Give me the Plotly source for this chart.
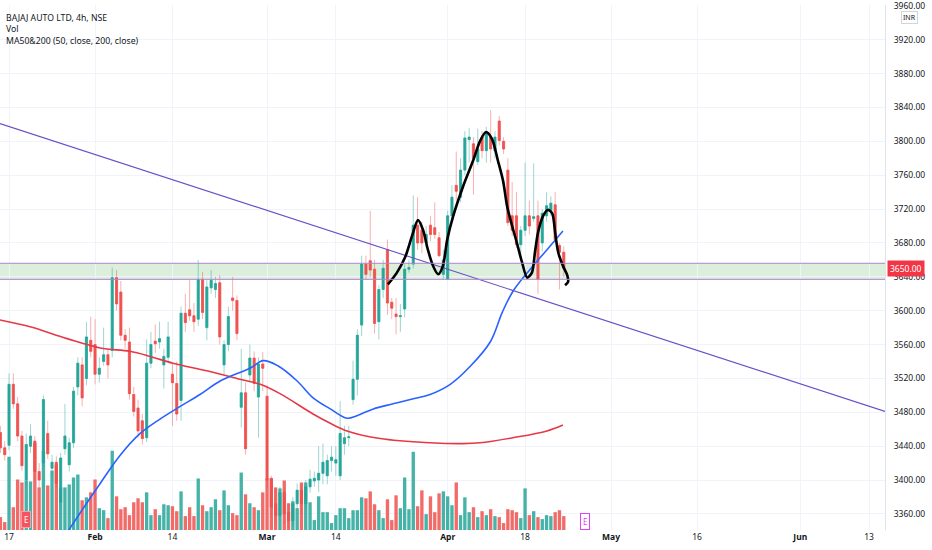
import plotly.graph_objects as go

# bar index 0 = first 4h bar of 1 Feb (two NSE bars per session)
bar_idx = list(range(-22, 110))

opens = [3456, 3438, 3441, 3513, 3490, 3452, 3400, 3440, 3446, 3410,
         3420, 3455, 3414, 3421, 3374, 3437, 3418, 3444, 3510, 3536,
         3520, 3565, 3560, 3525, 3540, 3548, 3553, 3639, 3622, 3571,
         3563, 3501, 3485, 3470, 3450, 3538, 3564, 3563, 3536, 3545,
         3525, 3514, 3494, 3597, 3601, 3594, 3590, 3637, 3580, 3627,
         3625, 3633, 3536, 3560, 3615, 3612, 3486, 3503, 3524, 3544,
         3498, 3537, 3499, 3402, 3372, 3358, 3385, 3362, 3352, 3372,
         3388, 3372, 3392, 3399, 3400, 3408, 3405, 3423, 3420, 3405,
         3443, 3450, 3495, 3519, 3583, 3655, 3659, 3649, 3587, 3625,
         3672, 3610, 3596, 3593, 3602, 3649, 3655, 3701, 3695, 3680,
         3701, 3698, 3686, 3643, 3637, 3712, 3748, 3734, 3766, 3802,
         3797, 3776, 3805, 3789, 3805, 3789, 3824, 3800, 3766, 3712,
         3712, 3678, 3695, 3712, 3709, 3712, 3680, 3712, 3718, 3725,
         3677, 3669]
highs = [3464, 3446, 3526, 3526, 3498, 3458, 3455, 3466, 3452, 3420,
         3500, 3470, 3430, 3428, 3432, 3490, 3450, 3510, 3545, 3545,
         3587, 3593, 3590, 3545, 3580, 3555, 3651, 3648, 3635, 3578,
         3580, 3510, 3495, 3478, 3566, 3575, 3584, 3587, 3555, 3587,
         3538, 3540, 3605, 3620, 3637, 3609, 3660, 3646, 3636, 3648,
         3640, 3642, 3565, 3605, 3640, 3618, 3555, 3515, 3560, 3552,
         3545, 3551, 3512, 3405, 3390, 3392, 3390, 3372, 3380, 3396,
         3395, 3400, 3412, 3410, 3440, 3443, 3430, 3440, 3440, 3493,
         3464, 3464, 3541, 3578, 3665, 3665, 3718, 3660, 3630, 3660,
         3684, 3615, 3615, 3608, 3655, 3660, 3736, 3734, 3705, 3700,
         3712, 3728, 3693, 3672, 3718, 3748, 3788, 3780, 3812, 3816,
         3805, 3815, 3812, 3817, 3837, 3812, 3830, 3805, 3780, 3752,
         3740, 3700, 3775, 3730, 3774, 3730, 3720, 3740, 3735, 3740,
         3680, 3676]
lows = [3432, 3423, 3435, 3484, 3446, 3411, 3392, 3432, 3400, 3390,
        3415, 3425, 3405, 3390, 3368, 3430, 3410, 3438, 3500, 3487,
        3512, 3545, 3513, 3515, 3535, 3520, 3545, 3600, 3565, 3555,
        3495, 3475, 3450, 3442, 3445, 3532, 3550, 3555, 3508, 3540,
        3464, 3470, 3470, 3575, 3588, 3575, 3582, 3590, 3565, 3620,
        3615, 3560, 3525, 3552, 3600, 3565, 3462, 3430, 3515, 3505,
        3450, 3505, 3390, 3355, 3350, 3352, 3348, 3343, 3346, 3365,
        3360, 3365, 3385, 3392, 3386, 3395, 3395, 3410, 3405, 3400,
        3430, 3440, 3489, 3500, 3570, 3637, 3640, 3573, 3566, 3615,
        3595, 3590, 3572, 3575, 3592, 3645, 3650, 3672, 3668, 3675,
        3682, 3685, 3663, 3637, 3636, 3706, 3730, 3728, 3760, 3775,
        3737, 3772, 3780, 3775, 3775, 3780, 3795, 3785, 3700, 3688,
        3674, 3667, 3688, 3690, 3705, 3620, 3670, 3705, 3712, 3680,
        3625, 3640]
closes = [3438, 3430, 3513, 3490, 3452, 3417, 3442, 3452, 3410, 3400,
          3495, 3431, 3421, 3396, 3426, 3452, 3444, 3505, 3538, 3497,
          3569, 3552, 3525, 3532, 3548, 3536, 3639, 3608, 3571, 3565,
          3502, 3481, 3458, 3449, 3538, 3560, 3561, 3567, 3546, 3569,
          3515, 3478, 3597, 3586, 3594, 3587, 3637, 3598, 3628, 3636,
          3632, 3569, 3560, 3593, 3612, 3573, 3503, 3437, 3544, 3514,
          3537, 3532, 3400, 3368, 3358, 3385, 3360, 3352, 3372, 3388,
          3372, 3392, 3401, 3402, 3408, 3421, 3423, 3427, 3424, 3455,
          3450, 3451, 3519, 3571, 3655, 3643, 3648, 3585, 3625, 3650,
          3609, 3603, 3593, 3594, 3649, 3651, 3701, 3680, 3680, 3690,
          3690, 3690, 3665, 3660, 3712, 3734, 3741, 3766, 3804, 3805,
          3780, 3791, 3789, 3810, 3791, 3805, 3801, 3791, 3704, 3695,
          3678, 3695, 3712, 3700, 3711, 3637, 3715, 3724, 3727, 3684,
          3669, 3650]
volume_k = [130, 80, 740, 230, 510, 480, 500, 490, 880, 430,
            800, 450, 600, 660, 430, 430, 460, 530, 560, 300,
            330, 380, 510, 220, 200, 120, 800, 340, 210, 230,
            150, 280, 320, 280, 380, 150, 210, 150, 260, 250,
            240, 190, 390, 140, 230, 140, 520, 250, 190, 230,
            310, 200, 400, 250, 170, 150, 580, 360, 270, 230,
            200, 380, 520, 520, 430, 420, 500, 270, 290, 220,
            480, 480, 280, 100, 340, 180, 180, 70, 150, 220,
            220, 120, 200, 200, 330, 320, 390, 260, 200, 120,
            310, 100, 350, 220, 530, 210, 790, 240, 400, 160,
            340, 180, 370, 390, 340, 250, 480, 150, 330, 180,
            230, 130, 190, 150, 210, 140, 130, 70, 210, 200,
            180, 120, 420, 150, 190, 130, 110, 150, 140, 180,
            200, 140]

tick_idx = [-20, 0, 18, 40, 56, 82, 100, 120, 140, 164, 180]
tick_text = ["17", "<b>Feb</b>", "14", "<b>Mar</b>", "14", "<b>Apr</b>", "18",
             "<b>May</b>", "16", "<b>Jun</b>", "13"]
price_ticks = list(range(3360, 3961, 40))

ma50_idx = [-6.5, -2.3, 1.2, 5.8, 10.5, 15.1, 19.8, 24.4, 29.1, 36, 39.1, 42.5,
            47, 50.7, 54.7, 58.6, 60.9, 64.7, 69.3, 74, 77.9, 82.6, 87.2, 91.9, 94.7, 97.2,
            101.2, 105.1, 108.8]
ma50_val = [3338, 3370, 3396, 3429, 3455, 3472, 3487, 3501, 3517, 3532, 3541, 3535,
            3517, 3497, 3484, 3473, 3476, 3484, 3490, 3496, 3501, 3513, 3534, 3563, 3598, 3623,
            3649, 3672, 3694]
ma200_idx = [-22.1, -15.1, -6.5, 1.2, 8.1, 12.8, 18.1, 26, 33.7, 38.4, 43, 50.7, 54.7, 58.6,
             66.3, 77.9, 85.6, 89.5, 97.2, 105.1, 108.8]
ma200_val = [3589, 3581, 3567, 3556, 3552, 3546, 3538, 3529, 3519, 3513, 3502, 3478, 3467, 3458,
             3449, 3444, 3443, 3444, 3450, 3458, 3465]

trend_idx = [-22.1, 183.7]
trend_val = [3821, 3481]

zone_low, zone_high = 3637, 3656
last_price = 3650.00

pattern_idx = [68.1, 70.2, 72.1, 73.7, 75.1, 76.3, 77.4, 78.6, 79.8, 80.9, 81.9, 83.3, 85.6,
               87.9, 89.5, 90.9, 92.3, 93.7, 94.9, 95.8, 97.0, 98.1, 99.3, 100.5, 101.6,
               102.3, 103.0, 104.2, 105.3, 106.3, 107.0, 107.7, 108.8, 109.8, 110.0, 109.3]
pattern_val = [3631, 3645, 3663, 3688, 3707, 3695, 3672, 3653, 3643, 3653, 3684, 3712, 3747,
               3777, 3800, 3811, 3803, 3777, 3753, 3724, 3700, 3680, 3657, 3639, 3645,
               3669, 3692, 3712, 3719, 3715, 3692, 3669, 3653, 3642, 3634, 3630]

earnings_idx = [-16, 114]

UP, DN = "#26a69a", "#ef5350"
UP_W, DN_W = "rgba(38,166,154,0.45)", "rgba(239,83,80,0.45)"
FONT = "Noto Sans"

fig = go.Figure()

vol_colors = [UP if c >= o else DN for o, c in zip(opens, closes)]
fig.add_trace(go.Bar(x=bar_idx, y=volume_k, marker_color=vol_colors, marker_line_width=0,
                     opacity=0.85, width=0.78, yaxis="y"))

# wicks (light) then bodies (solid) on top
fig.add_trace(go.Candlestick(x=bar_idx, open=opens, high=highs, low=lows, close=closes,
                             yaxis="y2", whiskerwidth=0,
                             increasing=dict(line=dict(color=UP_W, width=1), fillcolor=UP_W),
                             decreasing=dict(line=dict(color=DN_W, width=1), fillcolor=DN_W)))
body_hi = [max(o, c) for o, c in zip(opens, closes)]
body_lo = [min(o, c) for o, c in zip(opens, closes)]
fig.add_trace(go.Candlestick(x=bar_idx, open=opens, high=body_hi, low=body_lo, close=closes,
                             yaxis="y2", whiskerwidth=0,
                             increasing=dict(line=dict(color=UP, width=0.5), fillcolor=UP),
                             decreasing=dict(line=dict(color=DN, width=0.5), fillcolor=DN)))

fig.add_trace(go.Scatter(x=ma200_idx, y=ma200_val, mode="lines", yaxis="y2",
                         line=dict(color="#e53946", width=1.6, shape="spline")))
fig.add_trace(go.Scatter(x=ma50_idx, y=ma50_val, mode="lines", yaxis="y2",
                         line=dict(color="#2962ff", width=1.6, shape="spline")))
fig.add_trace(go.Scatter(x=trend_idx, y=trend_val, mode="lines", yaxis="y2",
                         line=dict(color="#6b4fc8", width=1.1)))
fig.add_trace(go.Scatter(x=pattern_idx, y=pattern_val, mode="lines", yaxis="y2",
                         line=dict(color="#000000", width=2.6, shape="spline", smoothing=0.8)))

# support zone
fig.add_shape(type="rect", xref="paper", x0=0, x1=1, yref="y2", y0=zone_low, y1=zone_high,
              fillcolor="rgba(76,175,80,0.2)", line_width=0, layer="below")
for lvl in (zone_low, zone_high):
    fig.add_shape(type="line", xref="paper", x0=0, x1=1, yref="y2", y0=lvl, y1=lvl,
                  line=dict(color="#b084cc", width=1))

# legend texts
for i, txt in enumerate(["BAJAJ AUTO LTD, 4h, NSE", "Vol", "MA50&200 (50, close, 200, close)"]):
    fig.add_annotation(text=txt, xref="paper", yref="paper", x=0.005, y=1 - (13 + 11.5 * i) / 530,
                       xanchor="left", yanchor="middle", showarrow=False,
                       font=dict(family=FONT, size=8.7, color="#131722"))

# last price badge and currency tag
fig.add_annotation(text=f"{last_price:.2f}", xref="paper", yref="y2", x=1, y=last_price,
                   xanchor="left", yanchor="middle", xshift=2, showarrow=False,
                   bgcolor="#f23645", borderpad=2, font=dict(family=FONT, size=8.5, color="white"))
fig.add_annotation(text="INR", xref="paper", yref="paper", x=1, y=1 - 13 / 530,
                   xanchor="left", yanchor="middle", xshift=16, showarrow=False,
                   bordercolor="#d1d4dc", borderwidth=1, borderpad=1, bgcolor="white",
                   font=dict(family=FONT, size=7, color="#131722"))

# earnings markers
fig.add_annotation(text="E", x=earnings_idx[0], xref="x", yref="paper", y=11 / 530,
                   yanchor="middle", showarrow=False, bgcolor="#f7525f", bordercolor="#f9a0a6",
                   borderwidth=1, borderpad=2, font=dict(family=FONT, size=8, color="white"))
fig.add_annotation(text="E", x=earnings_idx[1], xref="x", yref="paper", y=9 / 530,
                   yanchor="middle", showarrow=False, bgcolor="white", bordercolor="#e040fb",
                   borderwidth=1, borderpad=2, font=dict(family=FONT, size=8, color="#e040fb"))

fig.update_layout(
    width=932, height=550,
    margin=dict(l=0, r=47, t=0, b=20),
    paper_bgcolor="white", plot_bgcolor="white",
    showlegend=False,
    font=dict(family=FONT, size=9, color="#131722"),
    xaxis=dict(range=[-22.1, 183.7], tickvals=tick_idx, ticktext=tick_text,
               showgrid=True, gridcolor="#f0f3fa", zeroline=False, ticks="",
               rangeslider=dict(visible=False), tickfont=dict(size=8.5, color="#131722")),
    yaxis=dict(range=[0, 5300], visible=False, fixedrange=True),
    yaxis2=dict(overlaying="y", side="right", range=[3341, 3961], tickvals=price_ticks,
                tickformat=".2f", showgrid=True, gridcolor="#f0f3fa", zeroline=False,
                ticks="", showline=True, linecolor="#e0e3eb", ticklabelstandoff=6,
                ticklabeloverflow="allow", tickfont=dict(size=8.5, color="#131722")),
)

# drop the default page margin so the chart sits flush in the window
fig.write_html("out.html", config={"displayModeBar": False},
               post_script="document.body.style.margin='0';document.body.style.overflow='hidden';")
